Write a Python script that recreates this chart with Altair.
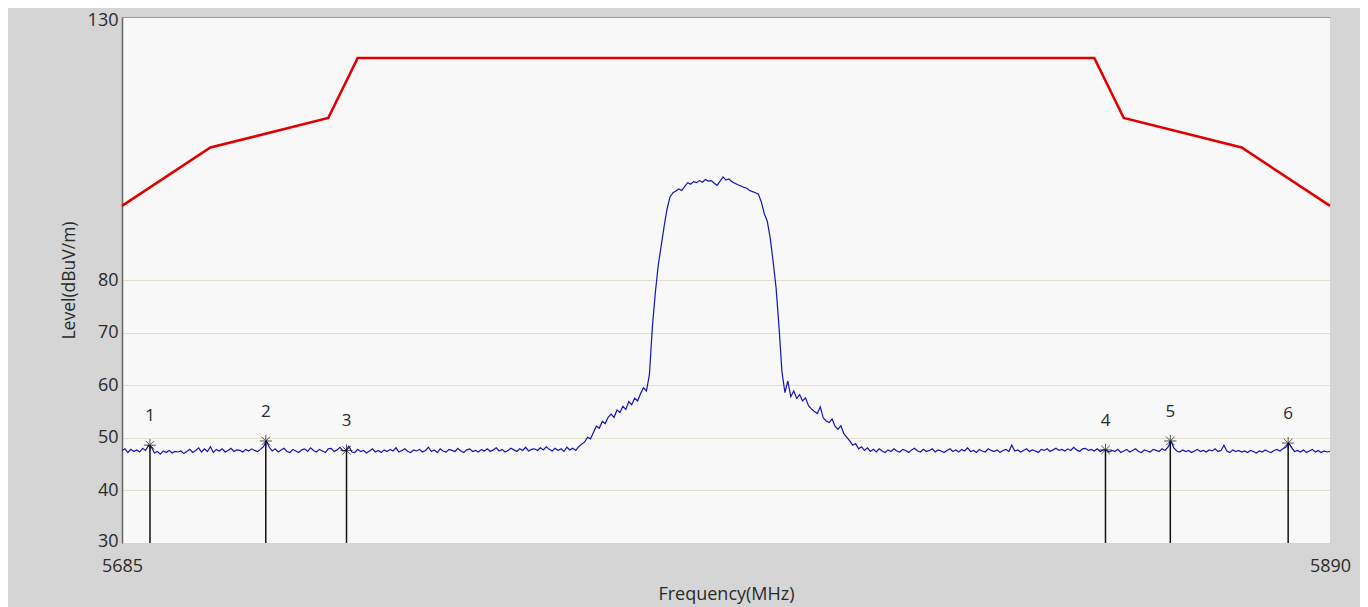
import altair as alt
import pandas as pd

# ---- data ----
limit_freq = [5685, 5700, 5720, 5725, 5850, 5855, 5875, 5890]
limit_level = [94.1, 105.2, 110.8, 122.2, 122.2, 110.8, 105.2, 94.1]

trace_start = 5685.0
trace_step = 0.5
trace_level = [
    47.6, 47.9, 47.2, 47.8, 47.4, 47.7, 47.3, 48.0, 47.6, 48.6, 48.2, 47.1, 47.4, 46.9, 47.5, 47.2, 47.6, 47.1, 47.4, 47.3,
    47.5, 47.0, 47.4, 47.8, 47.2, 47.6, 48.1, 47.3, 47.9, 47.4, 48.3, 47.2, 47.8, 47.5, 47.9, 47.3, 47.6, 48.0, 47.4, 47.7,
    47.6, 47.3, 47.8, 47.5, 47.9, 47.6, 47.4, 47.8, 48.3, 49.4, 48.2, 47.5, 47.9, 47.3, 47.7, 48.0, 47.4, 47.2, 47.8, 47.5,
    47.2, 47.7, 47.9, 47.4, 48.1, 47.6, 47.3, 47.8, 47.5, 47.2, 47.9, 48.0, 47.4, 47.7, 48.2, 47.5, 47.6, 48.4, 47.3, 47.2,
    47.8, 47.4, 47.6, 47.1, 47.5, 47.9, 47.3, 47.6, 47.2, 47.7, 47.4, 47.8, 47.5, 48.1, 47.3, 47.6, 47.9, 47.4, 47.2, 47.7,
    47.5, 47.8, 47.3, 47.6, 48.2, 47.4, 47.7, 47.2, 47.9, 47.5, 47.3, 47.8, 47.6, 47.4, 48.0, 47.5, 47.2, 47.7, 47.9, 47.4,
    47.6, 47.3, 47.8, 47.5, 47.9, 47.4, 47.7, 48.1, 47.5, 47.8, 47.3, 47.6, 48.0, 47.7, 47.4, 47.9, 47.6, 48.2, 47.5, 47.8,
    47.9, 47.6, 48.1, 47.7, 48.3, 47.8, 47.5, 48.0, 47.6, 47.9, 47.4, 48.2, 47.7, 48.0, 47.6, 48.3, 48.8, 49.2, 50.1, 49.8,
    51.0, 52.2, 51.8, 53.1, 52.7, 53.9, 54.5, 53.9, 55.3, 54.8, 56.0, 55.4, 56.9, 56.3, 57.5, 57.0, 58.4, 59.5, 58.9, 62.0,
    71.0, 77.5, 82.8, 86.5, 90.2, 93.5, 95.8, 96.6, 96.9, 97.3, 97.0, 97.8, 98.5, 98.2, 98.7, 98.5, 98.9, 98.6, 99.1, 98.8,
    98.9, 98.4, 98.0, 98.8, 99.6, 99.0, 99.2, 98.7, 98.4, 98.1, 97.9, 97.6, 97.5, 97.0, 96.8, 96.6, 96.3, 94.8, 92.6, 91.2,
    88.0, 83.5, 78.5, 71.0, 62.5, 58.6, 60.8, 57.8, 58.9, 57.5, 58.2, 57.0, 57.6, 56.1, 55.5, 55.0, 54.6, 55.9, 53.8, 53.2,
    52.9, 53.6, 52.2, 51.6, 52.3, 50.8, 50.1, 49.4, 48.6, 48.9, 47.9, 48.3, 47.6, 48.1, 47.4, 47.8, 47.3, 47.9, 47.5, 47.2,
    47.7, 47.4, 47.9, 47.5, 47.3, 47.8, 47.6, 47.2, 47.7, 48.0, 47.5, 47.3, 47.8, 47.4, 47.6, 47.9, 47.3, 47.7, 47.5, 47.2,
    47.6, 47.9, 47.4, 47.7, 47.3, 47.8, 47.5, 48.1, 47.4, 47.6, 47.2, 47.8, 47.5, 47.3, 47.9, 47.6, 47.4, 47.7, 47.2, 47.6,
    47.8, 47.4, 48.6, 47.5, 47.7, 47.3, 47.6, 47.9, 47.4, 47.7, 47.5, 47.2, 47.8, 47.6, 47.9, 47.4, 47.7, 48.0, 47.6, 47.8,
    47.5, 47.9, 47.6, 48.2, 47.7, 47.4, 47.9, 48.0, 47.6, 47.8, 47.5, 47.9, 47.4, 47.7, 47.7, 47.3, 47.6, 47.4, 47.8, 47.2,
    47.5, 47.8, 47.3, 47.6, 47.9, 47.4, 47.2, 47.7, 47.5, 47.3, 47.8, 47.6, 47.4, 47.9, 47.6, 48.2, 49.4, 48.1, 47.5, 47.3,
    47.7, 47.4, 47.6, 47.2, 47.5, 47.8, 47.4, 47.6, 47.3, 47.7, 47.5, 47.9, 47.4, 47.6, 48.6, 47.5, 47.2, 47.7, 47.4, 47.6,
    47.3, 47.5, 47.2, 47.6, 47.4, 47.1, 47.5, 47.3, 47.7, 47.4, 47.2, 47.6, 47.8, 47.5, 47.9, 48.2, 49.0, 48.1, 47.4, 47.6,
    47.3, 47.7, 47.2, 47.5, 47.8, 47.3, 47.6, 47.2, 47.5, 47.3, 47.4,
]

marker_label = ["1", "2", "3", "4", "5", "6"]
marker_freq = [5689.75, 5709.4, 5723.1, 5851.9, 5862.9, 5882.9]
marker_level = [48.6, 49.4, 47.6, 47.7, 49.4, 49.0]

y_ticks = [30, 40, 50, 60, 70, 80, 130]
x_ticks = [5685, 5890]

# ---- tables ----
limit_df = pd.DataFrame({"freq": limit_freq, "level": limit_level})
trace_df = pd.DataFrame({
    "freq": [trace_start + trace_step * i for i in range(len(trace_level))],
    "level": trace_level,
})
marker_df = pd.DataFrame({"label": marker_label, "freq": marker_freq, "level": marker_level})

FONT = "Open Sans"
TXT = "#2a2a2a"

x_scale = alt.Scale(domain=[5685, 5890], nice=False, zero=False)
y_scale = alt.Scale(domain=[30, 130], nice=False, zero=False)

x_enc = alt.X(
    "freq:Q", scale=x_scale, title="Frequency(MHz)",
    axis=alt.Axis(
        values=x_ticks, format="d", ticks=False, domain=False, grid=False,
        labelFont=FONT, labelFontSize=18, labelColor=TXT, labelPadding=14,
        labelFlush=False, labelOverlap=False,
        titleFont=FONT, titleFontSize=18, titleFontWeight="normal", titleColor=TXT,
        titlePadding=10,
    ),
)
y_enc = alt.Y(
    "level:Q", scale=y_scale, title="Level(dBuV/m)",
    axis=alt.Axis(
        values=y_ticks, format="d", ticks=False, domain=True, domainColor="#666666", domainWidth=1.5,
        grid=True,
        gridColor={"expr": "datum.value == 130 ? '#9a9a9a' : (datum.value == 30 ? 'transparent' : '#e3dfcc')"},
        gridWidth=1.2,
        labelFont=FONT, labelFontSize=18, labelColor=TXT, labelPadding=4,
        labelOffset={"expr": "datum.value == 130 ? 3 : (datum.value == 30 ? -2 : 0)"},
        labelOverlap=False, labelFlush=False,
        titleFont=FONT, titleFontSize=17.5, titleFontWeight="normal", titleColor=TXT,
        titlePadding=9,
    ),
)

limit_line = alt.Chart(limit_df).mark_line(color="#e00000", strokeWidth=2.6).encode(
    x=x_enc, y=y_enc
)

trace_line = alt.Chart(trace_df).mark_line(color="#1414b4", strokeWidth=1.2).encode(
    x=alt.X("freq:Q", scale=x_scale), y=alt.Y("level:Q", scale=y_scale)
)

rules = alt.Chart(marker_df).mark_rule(color="#111111", strokeWidth=1.5).encode(
    x=alt.X("freq:Q", scale=x_scale),
    y=alt.Y("level:Q", scale=y_scale),
    y2=alt.datum(30),
)

star_path = "M-1,0L1,0M0,-1L0,1M-0.7,-0.7L0.7,0.7M-0.7,0.7L0.7,-0.7"
stars = alt.Chart(marker_df).mark_point(
    shape=star_path, filled=False, color="#111111", size=150, strokeWidth=1
).encode(
    x=alt.X("freq:Q", scale=x_scale), y=alt.Y("level:Q", scale=y_scale)
)

labels = alt.Chart(marker_df).mark_text(
    dy=-29, font=FONT, fontSize=17, color=TXT, align="center", baseline="middle"
).encode(
    x=alt.X("freq:Q", scale=x_scale), y=alt.Y("level:Q", scale=y_scale), text="label:N"
)

chart = alt.layer(limit_line, trace_line, rules, stars, labels).properties(
    width=1208,
    height=526,
    autosize=alt.AutoSizeParams(type="none"),
    padding={"left": 114, "top": 9, "right": 30, "bottom": 64},
    background="#d5d5d5",
).configure_view(
    fill="#f8f8f8", stroke=None
)

chart.save("out.html", embed_options={"renderer": "svg", "actions": False})
